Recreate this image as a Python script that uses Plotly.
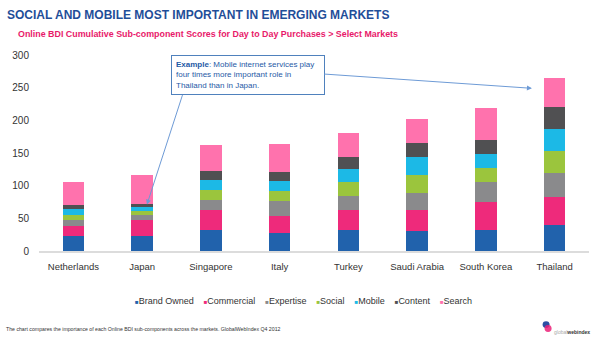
import plotly.graph_objects as go

# Markets and Online BDI sub-component scores (day to day purchases)
markets = ["Netherlands", "Japan", "Singapore", "Italy", "Turkey",
           "Saudi Arabia", "South Korea", "Thailand"]

brand_owned = [22.5, 22.5, 32, 27, 31.5, 30.5, 32.5, 40.5]
commercial = [15.5, 24.5, 30, 27, 30.5, 31.5, 42, 41.5]
expertise = [9.5, 8.5, 16.5, 22.5, 22, 27, 30.5, 37.5]
social = [8, 6, 15, 15.5, 21.5, 28, 21.5, 33.5]
mobile = [8.5, 6, 15.5, 14.5, 19.5, 26.5, 22.5, 33]
content = [7, 4, 13, 15, 19.5, 22.5, 21, 35]
search = [35, 45, 40, 42, 35.5, 35.5, 49.5, 43.5]

series_names = ["Brand Owned", "Commercial", "Expertise", "Social",
                "Mobile", "Content", "Search"]
series_values = [brand_owned, commercial, expertise, social,
                 mobile, content, search]
series_colors = ["#2162AC", "#EE2A7B", "#8A8A8C", "#9BC53D",
                 "#1CB9E6", "#505052", "#FF72AD"]

y_ticks = [0, 50, 100, 150, 200, 250, 300]

W, H = 600, 340
L, R, T, B = 38.5, 10.5, 54.5, 88.5
PW, PH = W - L - R, H - T - B


def px(x):
    return (x - L) / PW


def py(y):
    return (H - B - y) / PH


FONT = "Liberation Sans, Arial, Helvetica, sans-serif"

fig = go.Figure()
for name, vals, col in zip(series_names, series_values, series_colors):
    fig.add_trace(go.Bar(
        x=markets, y=vals, name=name,
        marker=dict(color=col, line=dict(width=0)),
        showlegend=False,
    ))

fig.update_layout(
    width=W, height=H,
    barmode="stack", bargap=0.69,
    margin=dict(l=L, r=R, t=T, b=B, pad=0),
    paper_bgcolor="white", plot_bgcolor="white",
    font=dict(family=FONT, size=10, color="#333333"),
    xaxis=dict(
        showgrid=False, showline=True, linecolor="#DCDCDC", linewidth=1.5,
        ticks="outside", ticklen=6, tickcolor="rgba(0,0,0,0)",
        tickfont=dict(size=9.5, color="#333333"),
    ),
    yaxis=dict(
        range=[0, 300], tickvals=y_ticks, showgrid=False, zeroline=False,
        showline=False, ticks="outside", ticklen=7,
        tickcolor="rgba(0,0,0,0)", tickfont=dict(size=10, color="#333333"),
    ),
)

annotations = []

# Headline and subtitle
annotations.append(dict(
    text="<b>SOCIAL AND MOBILE MOST IMPORTANT IN EMERGING MARKETS</b>",
    xref="paper", yref="paper", x=px(4), y=py(14), xanchor="left",
    yanchor="middle", showarrow=False,
    font=dict(family=FONT, size=12, color="#1F4E99"),
))
annotations.append(dict(
    text="<b>Online BDI Cumulative Sub-component Scores for Day to Day "
         "Purchases &gt; Select Markets</b>",
    xref="paper", yref="paper", x=px(15), y=py(33), xanchor="left",
    yanchor="middle", showarrow=False,
    font=dict(family=FONT, size=8.9, color="#E8196A"),
))

# Callout box
annotations.append(dict(
    text="<b>Example</b>: Mobile internet services play<br>"
         "four times more important role in<br>Thailand than in Japan.",
    xref="paper", yref="paper", x=px(171), y=py(54), xanchor="left",
    yanchor="top", align="left", showarrow=False,
    bordercolor="#4F81BD", borderwidth=1, borderpad=4,
    bgcolor="white", width=144,
    font=dict(family=FONT, size=8, color="#1F5AA6"),
))

# Arrows from the callout to Japan and Thailand
annotations.append(dict(
    x=1.07, y=71, ax=1.594, ay=241, xref="x", yref="y", axref="x",
    ayref="y", text="", showarrow=True, arrowhead=2, arrowsize=1,
    arrowwidth=1, arrowcolor="#6E9BD6",
))
annotations.append(dict(
    x=6.67, y=249, ax=3.627, ay=271, xref="x", yref="y", axref="x",
    ayref="y", text="", showarrow=True, arrowhead=2, arrowsize=1,
    arrowwidth=1, arrowcolor="#6E9BD6",
))

# Legend row
legend_parts = []
for name, col in zip(series_names, series_colors):
    legend_parts.append(
        f"<span style='color:{col};font-size:6px'>■</span>{name}")
annotations.append(dict(
    text="&nbsp;&nbsp;&nbsp;&nbsp;".join(legend_parts),
    xref="paper", yref="paper", x=px(303), y=py(302), xanchor="center",
    yanchor="middle", showarrow=False,
    font=dict(family=FONT, size=9, color="#333333"),
))

# Footnote
annotations.append(dict(
    text="The chart compares the importance of each Online BDI "
         "sub-components across the markets. GlobalWebIndex Q4 2012",
    xref="paper", yref="paper", x=px(3), y=py(330), xanchor="left",
    yanchor="middle", showarrow=False,
    font=dict(family=FONT, size=5.2, color="#333333"),
))

# Logo wordmark
annotations.append(dict(
    text="<span style='color:#AAAAAA'>global</span><b>webindex</b>",
    xref="paper", yref="paper", x=px(552), y=py(333), xanchor="left",
    yanchor="middle", showarrow=False,
    font=dict(family=FONT, size=5, color="#333333"),
))

fig.update_layout(annotations=annotations)

# Logo circles
fig.add_shape(type="circle", xref="paper", yref="paper",
              x0=px(543), x1=px(550), y0=py(322), y1=py(329),
              fillcolor="#2C4FA3", line=dict(width=0))
fig.add_shape(type="circle", xref="paper", yref="paper",
              x0=px(545), x1=px(552), y0=py(326), y1=py(333),
              fillcolor="rgba(236,32,120,0.85)", line=dict(width=0))

fig.write_html("out.html")
